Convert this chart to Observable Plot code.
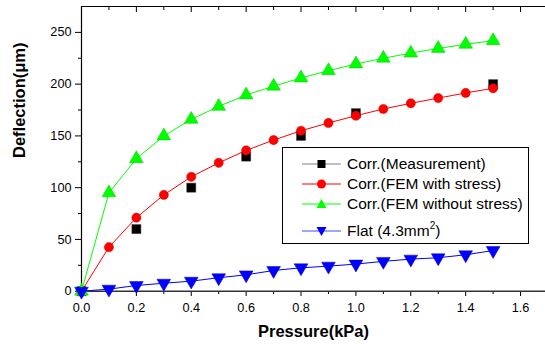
<!DOCTYPE html>
<html>
<head>
<meta charset="utf-8">
<script src="https://cdn.jsdelivr.net/npm/d3@7"></script>
<script src="https://cdn.jsdelivr.net/npm/@observablehq/plot@0.6"></script>
<style>
  body { margin: 0; background: #fff; }
  #wrap { position: relative; width: 545px; height: 344px; font-family: "Liberation Sans", Arial, sans-serif; }
  #legend { position: absolute; left: 282px; top: 147px; width: 247px; height: 97px; border: 1px solid #000; background: #fff; box-sizing: border-box; font-size: 15.5px; color: #000; }
  #legend .row { position: absolute; left: 0; height: 20px; display: flex; align-items: center; }
  #legend svg { display: block; margin-left: 19px; }
  #legend span { margin-left: 6px; white-space: nowrap; }
  sup { font-size: 10px; vertical-align: 7px; line-height: 0; }
</style>
</head>
<body>
<div id="wrap"></div>
<script>
const pressure = [0, 0.1, 0.2, 0.3, 0.4, 0.5, 0.6, 0.7, 0.8, 0.9, 1.0, 1.1, 1.2, 1.3, 1.4, 1.5];
const measPressure = [0, 0.2, 0.4, 0.6, 0.8, 1.0, 1.5];
const measurement = [0, 60, 100, 130, 150, 172, 200];
const femWithStress = [0, 42.5, 71, 93, 110.5, 124, 136, 146, 155, 162.5, 169.5, 176, 181.5, 186.5, 191.5, 196];
const femWithoutStress = [0, 95, 128, 150, 166, 178.5, 189.5, 198, 206, 213, 219.5, 225, 230, 234.5, 238.5, 242];
const flat = [0, 2, 5.5, 7.7, 9.7, 13, 15.8, 20, 22.6, 24.2, 26.2, 28.8, 31, 32.3, 35.2, 39.3];
const yMajor = [0, 50, 100, 150, 200, 250];
const yMinor = [25, 75, 125, 175, 225];
const xMajor = [0, 0.2, 0.4, 0.6, 0.8, 1.0, 1.2, 1.4, 1.6];
const xMinor = [0.1, 0.3, 0.5, 0.7, 0.9, 1.1, 1.3, 1.5];
const legendLabels = ["Corr.(Measurement)", "Corr.(FEM with stress)", "Corr.(FEM without stress)", "Flat (4.3mm<sup>2</sup>)"];

const zip = (xs, ys) => xs.map((x, i) => ({x, y: ys[i]}));
const meas = zip(measPressure, measurement);
const red = zip(pressure, femWithStress);
const green = zip(pressure, femWithoutStress);
const blue = zip(pressure, flat);

const font = "Liberation Sans, Arial, sans-serif";

const chart = Plot.plot({
  width: 545,
  height: 344,
  marginLeft: 81,
  marginRight: 0,
  marginTop: 6,
  marginBottom: 53,
  style: {fontFamily: font, fontSize: "12.7px", color: "#000", background: "#fff"},
  x: {domain: [0, 1.7], range: [81, 547.5]},
  y: {domain: [0, 275], range: [290.7, 6]},
  marks: [
    Plot.axisY({ticks: yMajor, tickSize: 6, tickPadding: 4, tickFormat: d => d, label: null, fontSize: 12.7}),
    Plot.axisY({ticks: yMinor, tickSize: 3, text: null, label: null}),
    Plot.axisX({ticks: xMajor, tickSize: 5, tickPadding: 6, tickFormat: d3.format(".1f"), label: null, fontSize: 12.7}),
    Plot.axisX({ticks: xMinor, tickSize: 3, text: null, label: null}),
    Plot.axisX({anchor: "top", ticks: xMajor, tickSize: -5, text: null, label: null}),
    Plot.axisX({anchor: "top", ticks: xMinor, tickSize: -3, text: null, label: null}),
    Plot.ruleX([0], {stroke: "#000", strokeWidth: 1.2}),
    Plot.ruleY([275], {stroke: "#000", strokeWidth: 1.2}),
    Plot.ruleY([0], {stroke: "#333", strokeWidth: 1.5}),
    Plot.line(green, {x: "x", y: "y", stroke: "#00ff00", strokeWidth: 1}),
    Plot.line(red, {x: "x", y: "y", stroke: "#ff0000", strokeWidth: 1}),
    Plot.line(blue, {x: "x", y: "y", stroke: "#0000ff", strokeWidth: 1}),
    Plot.dot(meas, {x: "x", y: "y", symbol: "square", r: 5.1, fill: "#000", stroke: "#333", strokeWidth: 0.5}),
    Plot.dot(red, {x: "x", y: "y", symbol: "circle", r: 4.6, fill: "#ff0000", stroke: "#dd0000", strokeWidth: 0.5}),
    Plot.dot(green, {x: "x", y: "y", symbol: "triangle", r: 5.1, fill: "#00ff00", stroke: "#00cc00", strokeWidth: 0.5}),
    Plot.dot(blue, {x: "x", y: "y", symbol: "triangle", rotate: 180, r: 5.1, fill: "#0000ff", stroke: "#0000cc", strokeWidth: 0.5}),
    Plot.text(["Deflection(\u03bcm)"], {frameAnchor: "left", dx: -62, dy: 9, rotate: -90, fontWeight: "bold", fontSize: 16.5, fill: "#000"}),
    Plot.text(["Pressure(kPa)"], {frameAnchor: "bottom", dx: 0, dy: 45, fontWeight: "bold", fontSize: 16.5, fill: "#000", textAnchor: "middle"})
  ]
});
const wrap = document.getElementById("wrap");
wrap.appendChild(chart);

// legend
const legend = document.createElement("div");
legend.id = "legend";
const styles = [
  {line: "#808080", sym: "square", fill: "#000"},
  {line: "#ff0000", sym: "circle", fill: "#ff0000"},
  {line: "#00ff00", sym: "triangle", fill: "#00ff00"},
  {line: "#4848ff", sym: "down", fill: "#0000ff"}
];
const tops = [6, 26, 46, 73];
styles.forEach((s, i) => {
  const row = document.createElement("div");
  row.className = "row";
  row.style.top = tops[i] + "px";
  let m;
  if (s.sym === "square") m = `<rect x="15.5" y="6" width="8" height="8" fill="${s.fill}"/>`;
  else if (s.sym === "circle") m = `<circle cx="19.5" cy="10" r="4.5" fill="${s.fill}"/>`;
  else if (s.sym === "triangle") m = `<path d="M19.5,5 L24.5,14 L14.5,14 Z" fill="${s.fill}"/>`;
  else m = `<path d="M19.5,15 L24.5,6 L14.5,6 Z" fill="${s.fill}"/>`;
  row.innerHTML = `<svg width="39" height="20"><line x1="0" y1="10" x2="39" y2="10" stroke="${s.line}" stroke-width="1.2"/>${m}</svg><span>${legendLabels[i]}</span>`;
  legend.appendChild(row);
});
wrap.appendChild(legend);
</script>
</body>
</html>
